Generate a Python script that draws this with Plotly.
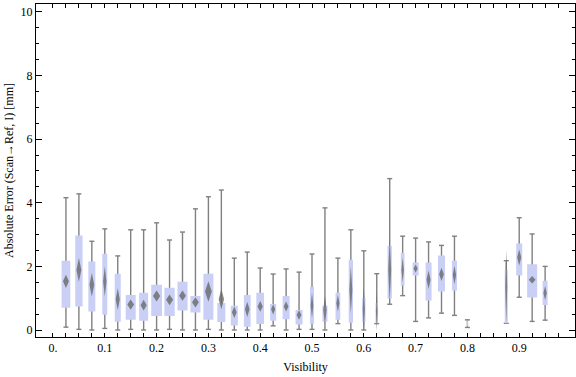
import plotly.graph_objects as go

# ---- data ----
visibility = [0.025, 0.05, 0.075, 0.1, 0.125, 0.15, 0.175, 0.2, 0.225, 0.25,
              0.275, 0.3, 0.325, 0.35, 0.375, 0.4, 0.425, 0.45, 0.475, 0.5,
              0.525, 0.55, 0.575, 0.6, 0.625, 0.65, 0.675, 0.7, 0.725, 0.75,
              0.775, 0.8, 0.825, 0.85, 0.875, 0.9, 0.925, 0.95]
upper_fence = [4.16, 4.28, 2.79, 3.18, 2.33, 3.15, 3.15, 3.37, 2.83, 3.08,
               3.81, 4.19, 4.40, 2.26, 2.45, 1.95, 1.76, 1.92, 1.82, 2.39,
               3.84, 2.26, 3.15, 2.49, 1.77, 4.76, 2.95, 2.89, 2.77, 2.66,
               2.95, 0.32, None, None, 2.18, 3.53, 3.02, 2.00]
q3 = [2.18, 2.97, 2.15, 2.40, 1.77, 1.10, 1.17, 1.42, 1.33, 1.52,
      1.07, 1.77, 0.85, 0.76, 1.10, 1.17, 0.82, 1.07, 0.63, 1.36,
      0.76, 1.17, 2.21, 1.01, 0.84, 2.65, 2.43, 2.12, 2.12, 2.34,
      2.18, 0.30, None, None, 1.89, 2.72, 2.07, 1.55]
q1 = [0.70, 0.74, 0.58, 0.48, 0.26, 0.32, 0.29, 0.44, 0.44, 0.61,
      0.55, 0.32, 0.25, 0.14, 0.10, 0.19, 0.29, 0.34, 0.17, 0.20,
      0.26, 0.32, 0.23, 0.26, 0.21, 0.99, 1.40, 1.71, 0.93, 1.21,
      1.24, 0.12, None, None, 0.21, 1.71, 1.02, 0.79]
lower_fence = [0.09, 0.02, 0.0, 0.05, 0.0, 0.02, 0.0, 0.0, 0.02, 0.0,
               0.0, 0.02, 0.0, 0.0, 0.0, 0.0, 0.13, 0.0, 0.02, 0.02,
               0.0, 0.20, 0.0, 0.0, 0.20, 0.81, 1.08, 0.27, 0.38, 0.53,
               0.46, 0.08, None, None, 0.21, 1.03, 0.27, 0.31]
mean = [1.53, 1.89, 1.42, 1.53, 0.97, 0.80, 0.78, 1.07, 0.95, 1.08,
        0.87, 1.21, 0.97, 0.56, 0.65, 0.74, 0.65, 0.74, 0.47, 0.77,
        0.63, 0.84, 1.26, 0.65, 0.58, 1.89, 1.89, 1.93, 1.58, 1.75,
        1.73, 0.26, None, None, 1.37, 2.28, 1.58, 1.16]
mean_ci = [0.21, 0.37, 0.37, 0.47, 0.34, 0.16, 0.17, 0.17, 0.17, 0.16,
           0.16, 0.32, 0.32, 0.18, 0.24, 0.17, 0.16, 0.16, 0.15, 0.39,
           0.45, 0.26, 0.74, 0.70, 0.60, 1.00, 0.39, 0.13, 0.29, 0.21,
           0.29, 0.40, None, None, 1.15, 0.25, 0.12, 0.22]
# relative box widths (proportional to sample size)
box_weight = [8.7, 7.3, 7.0, 5.0, 6.0, 10.0, 9.0, 10.7, 10.3, 10.0,
              10.0, 10.0, 8.0, 7.0, 6.7, 7.7, 6.0, 7.0, 7.0, 4.0,
              5.0, 4.7, 4.3, 3.3, 2.5, 4.3, 3.7, 6.0, 6.0, 7.0,
              5.0, 1.0, None, None, 3.0, 6.0, 10.0, 5.0]

x_tick_vals = [0.0, 0.1, 0.2, 0.3, 0.4, 0.5, 0.6, 0.7, 0.8, 0.9]
x_tick_text = ["0.", "0.1", "0.2", "0.3", "0.4", "0.5", "0.6", "0.7", "0.8", "0.9"]
x_minor_vals = [0.025 * k for k in range(40)]
y_tick_vals = [0, 2, 4, 6, 8, 10]

# ---- styling ----
WIDTH_SCALE = 1 / 518.0      # box weight -> data units
CAP = 2.5 / 518.0            # whisker cap half width (data units)
BOX_COLOR = "rgb(201,207,245)"
WHISKER_COLOR = "rgb(128,128,128)"
DIAMOND_COLOR = "rgba(105,105,105,0.8)"
FONT = "Liberation Serif"

wx, wy = [], []
bx, by = [], []
dx, dy = [], []
for i, x in enumerate(visibility):
    if upper_fence[i] is None:
        continue
    lo, hi = lower_fence[i], upper_fence[i]
    wx += [x, x, None, x - CAP, x + CAP, None, x - CAP, x + CAP, None]
    wy += [lo, hi, None, hi, hi, None, lo, lo, None]
    hw = box_weight[i] * WIDTH_SCALE / 2
    bx += [x - hw, x + hw, x + hw, x - hw, x - hw, None]
    by += [q1[i], q1[i], q3[i], q3[i], q1[i], None]
    dw = hw * 0.68
    m, c = mean[i], mean_ci[i]
    dx += [x, x + dw, x, x - dw, x, None]
    dy += [m - c, m, m + c, m, m - c, None]

fig = go.Figure()
fig.add_trace(go.Scatter(x=wx, y=wy, mode="lines",
                         line=dict(color=WHISKER_COLOR, width=1.4),
                         hoverinfo="skip", showlegend=False))
fig.add_trace(go.Scatter(x=bx, y=by, mode="lines", fill="toself",
                         fillcolor=BOX_COLOR, line=dict(width=0),
                         hoverinfo="skip", showlegend=False))
fig.add_trace(go.Scatter(x=dx, y=dy, mode="lines", fill="toself",
                         fillcolor=DIAMOND_COLOR, line=dict(width=0),
                         hoverinfo="skip", showlegend=False))

fig.update_layout(
    width=576, height=377,
    margin=dict(l=36, r=1, t=4, b=40, autoexpand=False),
    paper_bgcolor="white", plot_bgcolor="white",
    font=dict(family=FONT, size=12, color="black"),
    showlegend=False,
)
fig.update_xaxes(
    range=[-0.0328, 1.0077],
    tickmode="array", tickvals=x_tick_vals, ticktext=x_tick_text,
    ticks="inside", ticklen=4, tickwidth=1, tickcolor="black",
    minor=dict(tickmode="array", tickvals=x_minor_vals, ticks="inside",
               ticklen=4, tickwidth=1, tickcolor="black", showgrid=False),
    showline=True, linecolor="black", linewidth=1, mirror="allticks",
    showgrid=False, zeroline=False,
    tickfont=dict(family=FONT, size=12, color="black"),
    title=dict(text="Visibility", font=dict(family=FONT, size=12), standoff=8),
)
fig.update_yaxes(
    range=[-0.22, 10.25],
    tickmode="array", tickvals=y_tick_vals,
    ticks="inside", ticklen=6, tickwidth=1, tickcolor="black",
    minor=dict(dtick=0.5, tick0=0, ticks="inside", ticklen=3, tickwidth=1,
               tickcolor="black", showgrid=False),
    showline=True, linecolor="black", linewidth=1, mirror="allticks",
    showgrid=False, zeroline=False,
    tickfont=dict(family=FONT, size=12, color="black"),
    title=dict(text="Absolute Error (Scan\u2192Ref, I) [mm]",
               font=dict(family=FONT, size=12), standoff=4),
)

fig.write_html("out.html", config={"displayModeBar": False, "staticPlot": True},
               post_script="document.body.style.margin='0';")
